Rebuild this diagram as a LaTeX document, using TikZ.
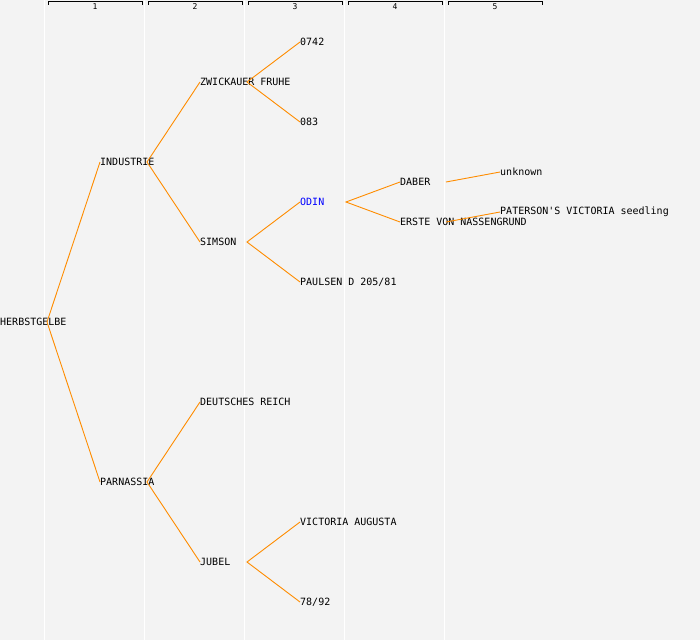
\documentclass[tikz,border=0pt]{standalone}
\usepackage{fontspec}
\setmonofont{DejaVu Sans Mono}
\usepackage{tikz}
\usetikzlibrary{calc}
\definecolor{bgray}{HTML}{F3F3F3}
\definecolor{lorange}{HTML}{FF8C00}
\tikzset{
  lbl/.style={anchor=west,inner sep=0pt,font=\ttfamily\fontsize{10}{10}\selectfont},
  edge/.style={lorange,line width=0.9pt}
}
\begin{document}
\begin{tikzpicture}[x=1pt,y=-1pt]
\fill[bgray] (0,0) rectangle (700,640);
\useasboundingbox (0,0) rectangle (700,640);
\foreach \c in {0,1,...,4} {\draw[white,line width=1.5pt] (44.5+100*\c,0)--++(0,640);}
\foreach \c in {1,...,5} {
  \draw[black,line width=1pt] (100*\c-52,4.5)--++(0,-3)--++(94,0)--++(0,3);
  \node[font=\ttfamily\fontsize{8}{8}\selectfont,inner sep=0pt] at (100*\c-5,7) {\c};
}
% pedigree nodes
\node[lbl](herb)at(0,322){HERBSTGELBE};
\node[lbl](indu)at(100,162){INDUSTRIE};
\node[lbl](parn)at(100,482){PARNASSIA};
\node[lbl](zwic)at(200,82){ZWICKAUER FRUHE};
\node[lbl](sims)at(200,242){SIMSON};
\node[lbl](deut)at(200,402){DEUTSCHES REICH};
\node[lbl](jube)at(200,562){JUBEL};
\node[lbl](o742)at(300,42){0742};
\node[lbl](o083)at(300,122){083};
\node[lbl,blue](odin)at(300,202){ODIN};
\node[lbl](paul)at(300,282){PAULSEN D 205/81};
\node[lbl](vict)at(300,522){VICTORIA AUGUSTA};
\node[lbl](n7892)at(300,602){78/92};
\node[lbl](dabe)at(400,182){DABER};
\node[lbl](erst)at(400,222){ERSTE VON NASSENGRUND};
\node[lbl](unkn)at(500,172){unknown};
\node[lbl](pate)at(500,212){PATERSON'S VICTORIA seedling};
% connectors
\draw[edge](indu.west)--($(herb.west)+(47,0)$)--(parn.west);
\draw[edge](zwic.west)--($(indu.west)+(47,0)$)--(sims.west);
\draw[edge](deut.west)--($(parn.west)+(47,0)$)--(jube.west);
\draw[edge](o742.west)--($(zwic.west)+(47,0)$)--(o083.west);
\draw[edge](odin.west)--($(sims.west)+(47,0)$)--(paul.west);
\draw[edge](vict.west)--($(jube.west)+(47,0)$)--(n7892.west);
\draw[edge](dabe.west)--($(odin.west)+(46,0)$)--(erst.west);
\draw[edge]($(dabe.west)+(46,0)$)--(unkn.west);
\draw[edge]($(erst.west)+(46,0)$)--(pate.west);
\end{tikzpicture}
\end{document}
